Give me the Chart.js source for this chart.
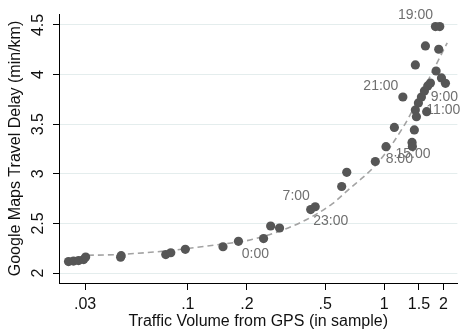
<!DOCTYPE html>
<html>
<head>
<meta charset="utf-8">
<script src="https://cdn.jsdelivr.net/npm/chart.js@4.4.0/dist/chart.umd.min.js"></script>
<style>
  body { margin: 0; background: #fff; }
  canvas { display: block; }
</style>
</head>
<body>
<canvas id="grafico" width="462" height="331"></canvas>
<script>
// traffic volume (GPS, in sample) vs Google Maps delay, one point per observation
const trafficVolume = [
  0.0247, 0.0262, 0.0278, 0.0295, 0.0302, 0.0455, 0.0458, 0.0772, 0.0819, 0.0971,
  0.151, 0.181, 0.243, 0.264, 0.293, 0.422, 0.445, 0.607, 0.644, 0.900,
  1.02, 1.125, 1.243, 1.384, 1.39, 1.422, 1.439, 1.457, 1.491, 1.545,
  1.60, 1.643, 1.663, 1.717, 1.835, 1.954, 2.047, 1.619, 1.892, 1.439,
  1.821, 1.915
];
const travelDelay = [
  2.116, 2.121, 2.126, 2.136, 2.161, 2.160, 2.175, 2.186, 2.205, 2.239,
  2.265, 2.320, 2.348, 2.474, 2.454, 2.640, 2.668, 2.872, 3.015, 3.124,
  3.273, 3.467, 3.774, 3.316, 3.275, 3.442, 3.643, 3.576, 3.714, 3.774,
  3.835, 3.626, 3.885, 3.915, 4.036, 3.966, 3.912, 4.288, 4.255, 4.097,
  4.483, 4.483
];

// fitted curve
const fitVolume = [0.031, 0.038, 0.07, 0.137, 0.214, 0.371, 0.545, 0.64, 0.934, 1.256, 1.6, 2.09];
const fitDelay = [2.18, 2.182, 2.215, 2.282, 2.34, 2.505, 2.70, 2.82, 3.12, 3.48, 3.87, 4.32];

const xTicks = [0.03, 0.1, 0.2, 0.5, 1, 1.5, 2];
const xTickLabels = ['.03', '.1', '.2', '.5', '1', '1.5', '2'];
const yTicks = [2, 2.5, 3, 3.5, 4, 4.5];
const yTickLabels = ['2', '2.5', '3', '3.5', '4', '4.5'];

// hour labels and the point each one belongs to
const hourLabels = ['0:00', '23:00', '7:00', '8:00', '21:00', '15:00', '11:00', '9:00', '19:00'];
const hourPoints = [11, 15, 16, 19, 22, 23, 26, 29, 40];

const fonte = "'Liberation Sans', Arial, Helvetica, sans-serif";
Chart.defaults.font.family = fonte;

// offset of each label from its point, in pixels
const deslocamentos = {
  '0:00': [17, 13], '23:00': [20, 12], '7:00': [-19, -11], '8:00': [24, -2],
  '21:00': [-22, -11], '15:00': [1, 12], '11:00': [28, 0], '9:00': [23, 0], '19:00': [-20, -11]
};

const rotulosHoras = {
  id: 'rotulosHoras',
  beforeDatasetsDraw(chart) {
    const ctx = chart.ctx;
    const meta = chart.getDatasetMeta(0);
    ctx.save();
    ctx.font = '14px ' + fonte;
    ctx.fillStyle = '#6f6f6f';
    ctx.textAlign = 'center';
    ctx.textBaseline = 'middle';
    hourLabels.forEach((texto, i) => {
      const p = meta.data[hourPoints[i]];
      const d = deslocamentos[texto];
      ctx.fillText(texto, p.x + d[0], p.y + d[1]);
    });
    ctx.restore();
  }
};

// vertical tick labels on the y axis
const rotulosY = {
  id: 'rotulosY',
  afterDraw(chart) {
    const ctx = chart.ctx;
    const y = chart.scales.y;
    ctx.save();
    ctx.font = '16px ' + fonte;
    ctx.fillStyle = '#111';
    ctx.textAlign = 'center';
    ctx.textBaseline = 'middle';
    yTicks.forEach((v, i) => {
      ctx.save();
      ctx.translate(39, y.getPixelForValue(v));
      ctx.rotate(-Math.PI / 2);
      ctx.fillText(yTickLabels[i], 0, 0);
      ctx.restore();
    });
    ctx.restore();
  }
};

const pontos = trafficVolume.map((x, i) => ({x: x, y: travelDelay[i]}));
const curva = fitVolume.map((x, i) => ({x: x, y: fitDelay[i]}));

new Chart(document.getElementById('grafico').getContext('2d'), {
  type: 'scatter',
  data: {
    datasets: [
      {
        data: pontos,
        backgroundColor: '#565656',
        borderWidth: 0,
        pointRadius: 4.6,
        pointHoverRadius: 4.6,
        order: 0
      },
      {
        data: curva,
        showLine: true,
        borderColor: '#a3a3a3',
        borderWidth: 1.6,
        borderDash: [6, 4],
        pointRadius: 0,
        cubicInterpolationMode: 'monotone',
        order: 1
      }
    ]
  },
  options: {
    responsive: false,
    animation: false,
    devicePixelRatio: 1,
    layout: { padding: { top: 14, right: 4, left: 0, bottom: 0 } },
    plugins: {
      legend: { display: false },
      tooltip: { enabled: false }
    },
    events: [],
    scales: {
      x: {
        type: 'logarithmic',
        min: 0.0221,
        max: 2.355,
        bounds: 'data',
        afterBuildTicks: scale => { scale.ticks = xTicks.map(v => ({value: v})); },
        afterFit: scale => { scale.height = 48; },
        ticks: {
          autoSkip: false,
          maxRotation: 0,
          padding: 5,
          color: '#111',
          font: { size: 16 },
          callback: (value, index) => xTickLabels[index]
        },
        grid: {
          drawOnChartArea: false,
          drawTicks: true,
          tickLength: 7,
          tickColor: '#000',
          tickWidth: 1
        },
        border: { display: true, color: '#000', width: 1 },
        title: {
          display: true,
          text: 'Traffic Volume from GPS (in sample)',
          color: '#111',
          font: { size: 16 },
          padding: { top: 0, bottom: 0 }
        }
      },
      y: {
        min: 1.9,
        max: 4.61,
        afterBuildTicks: scale => { scale.ticks = yTicks.map(v => ({value: v})); },
        afterFit: scale => { scale.width = 59; },
        ticks: { display: false },
        grid: {
          color: '#e4eded',
          lineWidth: 1,
          drawTicks: true,
          tickLength: 6,
          tickColor: '#000',
          tickWidth: 1
        },
        border: { display: true, color: '#000', width: 1 },
        title: {
          display: true,
          text: 'Google Maps Travel Delay (min/km)',
          color: '#111',
          font: { size: 16 },
          padding: { top: 6, bottom: 0 }
        }
      }
    }
  },
  plugins: [rotulosHoras, rotulosY]
});
</script>
</body>
</html>
